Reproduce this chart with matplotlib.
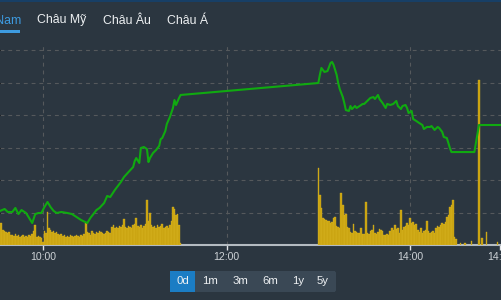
import numpy as np
import matplotlib
matplotlib.use("Agg")
import matplotlib.pyplot as plt
from matplotlib.patches import Rectangle, FancyBboxPatch

plt.rcParams['font.family'] = ['Liberation Sans', 'DejaVu Sans']

BG = '#2b3640'
W, H = 501, 300

# ---- data -------------------------------------------------------------
price_times = ["09:32", "09:35", "09:37", "09:40", "09:42", "09:44", "09:46", "09:49", "09:51", "09:53",
               "09:55", "09:57", "09:59", "10:01", "10:03", "10:05", "10:07", "10:09", "10:12", "10:16",
               "10:19", "10:22", "10:25", "10:29", "10:31", "10:33", "10:35", "10:37", "10:40", "10:42",
               "10:44", "10:47", "10:49", "10:51", "10:53", "10:56", "10:59", "11:00", "11:01", "11:03",
               "11:04", "11:06", "11:08", "11:09", "11:10", "11:12", "11:14", "11:16", "11:17", "11:18",
               "11:20", "11:21", "11:23", "11:25", "11:26", "11:27", "11:29", "11:30",
               "13:00", "13:01", "13:02", "13:04", "13:06", "13:08", "13:09", "13:10", "13:12", "13:13",
               "13:14", "13:16", "13:17", "13:18", "13:20", "13:21", "13:22", "13:24", "13:25", "13:27",
               "13:29", "13:30", "13:32", "13:34", "13:36", "13:37", "13:39", "13:40", "13:42", "13:44",
               "13:45", "13:47", "13:49", "13:51", "13:52", "13:54", "13:55", "13:57", "13:58", "13:59",
               "14:01", "14:02", "14:04", "14:06", "14:08", "14:09", "14:11", "14:13", "14:14", "14:16",
               "14:18", "14:19", "14:21", "14:22", "14:24", "14:25", "14:26", "14:27", "14:42", "14:45",
               "14:59"]
price_vals = [1182.62, 1182.77, 1182.54, 1182.54, 1182.85, 1182.38, 1182.69, 1182.46, 1182.08, 1181.69,
              1182.38, 1182.46, 1182.46, 1182.92, 1183.31, 1182.92, 1182.62, 1182.46, 1182.54, 1182.46,
              1182.38, 1182.15, 1181.92, 1181.69, 1182.08, 1182.38, 1182.69, 1182.85, 1183.23, 1183.77,
              1183.69, 1184.23, 1184.54, 1184.85, 1185.23, 1185.62, 1186.00, 1186.46, 1186.69, 1186.31,
              1187.46, 1187.54, 1187.38, 1186.38, 1186.69, 1187.08, 1187.31, 1187.62, 1188.15, 1188.23,
              1188.77, 1189.31, 1189.85, 1190.54, 1191.15, 1190.77, 1191.31, 1191.54,
              1192.46, 1193.08, 1193.62, 1193.31, 1193.38, 1194.00, 1194.08, 1193.85, 1193.08, 1192.46,
              1192.00, 1191.38, 1190.92, 1190.38, 1190.31, 1190.69, 1190.46, 1190.69, 1190.54, 1190.69,
              1190.85, 1190.85, 1191.08, 1191.31, 1191.38, 1191.23, 1191.54, 1191.23, 1190.92, 1190.54,
              1190.85, 1190.77, 1190.85, 1191.08, 1190.69, 1190.46, 1190.69, 1190.77, 1190.54, 1190.15,
              1190.31, 1189.69, 1189.54, 1189.38, 1189.23, 1188.92, 1189.08, 1189.08, 1189.15, 1188.85,
              1189.08, 1189.00, 1188.69, 1188.31, 1188.23, 1187.85, 1187.46, 1187.15, 1187.15, 1189.23,
              1189.23]

# per-minute volume, morning session from 09:32, afternoon from 13:00
vol_morning_start = "09:32"
vol_morning = [22, 22, 15, 14, 13, 12, 13, 10, 10, 9,
               11, 9, 10, 8, 9, 10, 8, 9, 8, 10,
               9, 11, 14, 20, 8, 9, 8, 7, 3, 14,
               12, 33, 17, 15, 13, 14, 12, 13, 11, 10,
               11, 9, 10, 8, 9, 8, 10, 9, 8, 9,
               10, 9, 8, 10, 9, 11, 22, 13, 12, 10,
               14, 12, 11, 13, 12, 14, 13, 12, 11, 12,
               14, 13, 12, 18, 20, 17, 18, 17, 19, 18,
               20, 26, 18, 17, 19, 18, 17, 20, 21, 27,
               19, 18, 20, 17, 19, 21, 45, 24, 32, 20,
               18, 19, 17, 20, 18, 19, 21, 17, 18, 19,
               17, 20, 24, 38, 36, 30, 31, 20, 2]
vol_afternoon_start = "13:00"
vol_afternoon = [77, 50, 37, 27, 26, 25, 24, 24, 22, 23,
                 27, 28, 19, 18, 17, 52, 40, 30, 31, 18,
                 17, 13, 12, 21, 14, 13, 12, 12, 17, 11,
                 11, 43, 12, 11, 14, 15, 20, 12, 11, 13,
                 16, 15, 14, 10, 10, 11, 10, 14, 17, 15,
                 20, 16, 17, 12, 35, 15, 18, 19, 22, 20,
                 27, 22, 23, 20, 21, 15, 13, 17, 12, 14,
                 15, 24, 14, 12, 13, 14, 12, 17, 19, 18,
                 20, 22, 21, 23, 28, 30, 38, 40, 45, 8,
                 6]
atc_times = ["14:33", "14:36", "14:40", "14:45", "14:47", "14:50", "14:57"]
atc_vols = [2, 2, 4, 165, 7, 13, 3]

tick_times = ["10:00", "12:00", "14:00", "14:59"]
tabs = ["Việt Nam", "Châu Mỹ", "Châu Âu", "Châu Á"]
ranges = ["0d", "1m", "3m", "6m", "1y", "5y"]


def mins(t):
    h, m = t.split(":")
    return (int(h) - 9) * 60 + int(m)


def fx(x):
    return x / W


def fy(y):
    return 1 - y / H


pt = np.array([mins(t) for t in price_times])
m0 = mins(vol_morning_start)
a0 = mins(vol_afternoon_start)
vt = np.concatenate([np.arange(m0, m0 + len(vol_morning)),
                     np.arange(a0, a0 + len(vol_afternoon)),
                     [mins(t) for t in atc_times]])
vv = np.concatenate([vol_morning, vol_afternoon, atc_vols])

fig = plt.figure(figsize=(W / 100, H / 100), dpi=100)
fig.patch.set_facecolor(BG)

top_px, bot_px = 46, 245
ax = fig.add_axes([0, fy(bot_px), 1, (bot_px - top_px) / H])
ax.set_facecolor(BG)

xmin, xmax = 31.96, 359.4
pmin = 1180.0
pmax = pmin + (bot_px - top_px) / 13.0
vmax = bot_px - top_px

ax.bar(vt, vv, width=1.0, color='#c8a20e', edgecolor='#dcb726', linewidth=0.25, zorder=3)
ax.set_xlim(xmin, xmax)
ax.set_ylim(0, vmax)

# price grid lines placed on the volume axes so bars sit above them
price_grid = np.arange(1182.5, 1196, 2.5)
ax.set_yticks((price_grid - pmin) / (pmax - pmin) * vmax)
ax.grid(axis='y', color='#55595c', linestyle=(0, (3.5, 3.5)), linewidth=0.8, zorder=0)
ax.set_axisbelow(True)
tk = [mins(t) for t in tick_times]
for t in tk[:3]:
    ax.axvline(t, color='#55595c', linestyle=(0, (3.5, 3.5)), linewidth=0.8, zorder=0)

ax.set_xticks(tk)
ax.set_xticklabels(tick_times)
ax.tick_params(axis='x', colors='#e0e3e6', labelcolor='#cdd2d6', labelsize=7.6,
               length=3.5, width=1, pad=1.5)
ax.tick_params(axis='y', left=False, labelleft=False)
for s in ['top', 'left', 'right']:
    ax.spines[s].set_visible(False)
ax.spines['bottom'].set_color('#b4bbc1')
ax.spines['bottom'].set_linewidth(1.5)

axp = ax.twinx()
axp.patch.set_visible(False)
axp.plot(pt, price_vals, color='#10aa10', linewidth=1.5, zorder=4)
axp.set_ylim(pmin, pmax)
axp.set_xlim(xmin, xmax)
axp.set_yticks([])
for s in axp.spines.values():
    s.set_visible(False)

# top strip
fig.patches.append(Rectangle((0, fy(2)), 1, 2 / H, transform=fig.transFigure,
                             facecolor='#173f66', edgecolor='none'))

# tabs
tab_x = [21, 37, 103, 167]
for i, (lab, x) in enumerate(zip(tabs, tab_x)):
    if i == 0:
        fig.text(fx(x), fy(20.5), lab, ha='right', va='center', fontsize=8.8, color='#3d9be0')
    else:
        fig.text(fx(x), fy(20.5), lab, ha='left', va='center', fontsize=8.8, color='#eef1f3')
fig.patches.append(Rectangle((0, fy(32.5)), fx(20), 2 / H, transform=fig.transFigure,
                             facecolor='#3d9be0', edgecolor='none'))

# range buttons
btn_edges = [170, 196, 226, 256, 286, 311, 336]
fig.patches.append(FancyBboxPatch((fx(170), fy(292)), fx(166), 21 / H,
                                  boxstyle='round,pad=0,rounding_size=0.006',
                                  transform=fig.transFigure, facecolor='#3a4855',
                                  edgecolor='none'))
for i, lab in enumerate(ranges):
    x0, x1 = btn_edges[i], btn_edges[i + 1]
    fc = '#1b7dc4' if i == 0 else '#3a4855'
    fig.patches.append(Rectangle((fx(x0), fy(292)), fx(x1 - x0 - 1), 21 / H,
                                 transform=fig.transFigure, facecolor=fc, edgecolor='none'))
    fig.text(fx((x0 + x1 - 1) / 2), fy(281.5), lab, ha='center', va='center',
             fontsize=8.2, color='#eef1f3')

fig.savefig("out.png", dpi=100, facecolor=BG)
